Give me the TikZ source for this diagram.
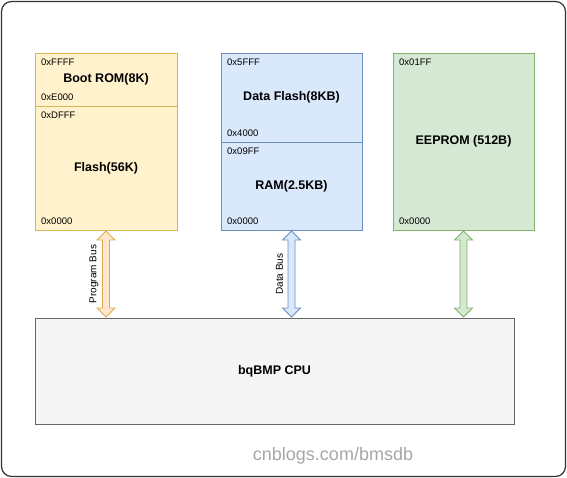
\documentclass[tikz,border=0pt]{standalone}
\usepackage{fontspec}
\setmainfont{Liberation Sans}
\usetikzlibrary{calc, positioning}

\definecolor{romfill}{HTML}{FFF2CC}
\definecolor{romline}{HTML}{D6B656}
\definecolor{ramfill}{HTML}{DAE8FC}
\definecolor{ramline}{HTML}{6C8EBF}
\definecolor{eefill}{HTML}{D5E8D4}
\definecolor{eeline}{HTML}{82B366}
\definecolor{cpufill}{HTML}{F5F5F5}
\definecolor{cpuline}{HTML}{666666}
\definecolor{progfill}{HTML}{FFE6CC}
\definecolor{progline}{HTML}{E0A94A}

\begin{document}
\begin{tikzpicture}[x=1pt, y=-1pt,
  mem/.style={draw, line width=0.8pt, inner sep=0pt, outer sep=0pt, font=\bfseries\fontsize{12.5}{14}\selectfont},
  addr/.style={anchor=west, inner sep=0pt, font=\fontsize{9.5}{11}\selectfont},
  bus/.style={line width=0.8pt, line join=miter},
  busname/.style={rotate=90, inner sep=0pt, font=\fontsize{10}{12}\selectfont}]
  \useasboundingbox (0,0) rectangle (567,478);
  \draw[rounded corners=10pt, line width=1.2pt, draw=black!80] (1.5,1.5) rectangle (565.5,476.5);

  % Memory blocks
  \node[mem, fill=romfill, draw=romline, minimum width=142pt, minimum height=53pt] (boot) at (106,79.5) {Boot ROM(8K)};
  \node[mem, fill=romfill, draw=romline, minimum width=142pt, minimum height=124pt, below=0pt of boot] (flash) {Flash(56K)};
  \node[mem, fill=ramfill, draw=ramline, minimum width=141pt, minimum height=89pt] (dflash) at (291.5,97.5) {Data Flash(8KB)};
  \node[mem, fill=ramfill, draw=ramline, minimum width=141pt, minimum height=88pt, below=0pt of dflash] (ram) {RAM(2.5KB)};
  \node[mem, fill=eefill, draw=eeline, minimum width=141pt, minimum height=177pt] (eeprom) at (463.5,141.5) {EEPROM (512B)};
  \node[mem, fill=cpufill, draw=cpuline, minimum width=479pt, minimum height=106pt] (cpu) at (274.5,371) {bqBMP CPU};

  % Address ranges
  \foreach \b/\t in {boot/0xFFFF, flash/0xDFFF, dflash/0x5FFF, ram/0x09FF, eeprom/0x01FF}
    \node[addr] (\b-hi) at ($(\b.north west)+(6,9)$) {\t};
  \foreach \b/\t in {boot/0xE000, flash/0x0000, dflash/0x4000, ram/0x0000, eeprom/0x0000}
    \node[addr] (\b-lo) at ($(\b.south west)+(6,-9)$) {\t};

  % Buses to the CPU
  \foreach \m/\f/\d in {flash/progfill/progline, ram/ramfill/ramline, eeprom/eefill/eeline} {
    \coordinate (\m-top) at ($(\m.south)+(0,1)$);
    \coordinate (\m-bot) at ($(\m.south |- cpu.north)+(0,-1)$);
    \filldraw[bus, fill=\f, draw=\d] (\m-top) -- ++(9,9) -- ++(-5.5,0)
      -- ($(\m-bot)+(3.5,-9)$) -- ++(5.5,0) -- (\m-bot) -- ++(-9,-9) -- ++(5.5,0)
      -- ($(\m-top)+(-3.5,9)$) -- ++(-5.5,0) -- cycle;
  }
  \node[busname] (pbus) at ($(flash-top)!0.5!(flash-bot)+(-12,0)$) {Program Bus};
  \node[busname] (dbus) at ($(ram-top)!0.5!(ram-bot)+(-12,0)$) {Data Bus};

  \node[text=black!35, font=\fontsize{18}{20}\selectfont] (mark) at (333,456) {cnblogs.com/bmsdb};
\end{tikzpicture}
\end{document}
